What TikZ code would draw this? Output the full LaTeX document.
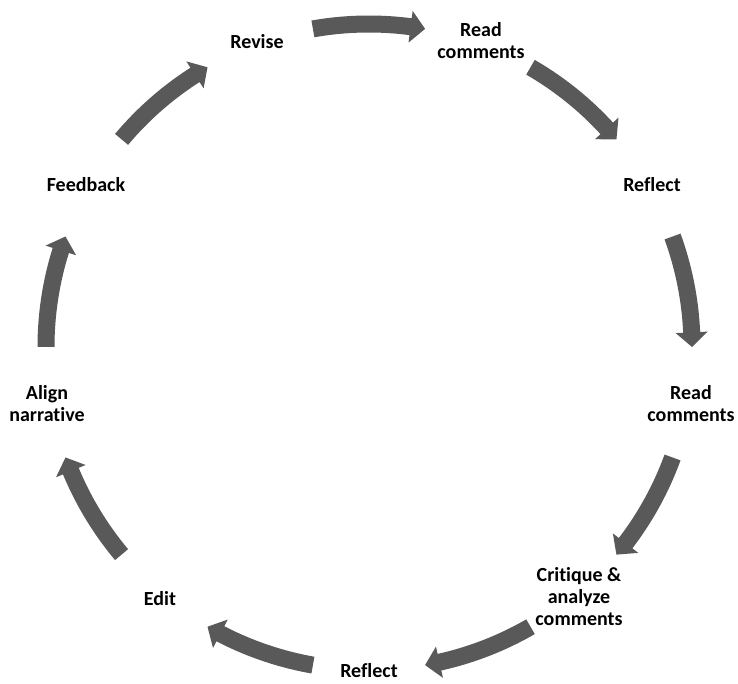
\documentclass[tikz,border=0pt]{standalone}
\usepackage{fontspec}
\setmainfont{Carlito}[Ligatures=NoCommon]
\definecolor{arrowgray}{RGB}{89,89,89}
\def\rM{323}
\def\rO{331.5}
\def\rI{314.5}
\def\rHO{339}
\def\rHI{307}
\newcommand\cycarrow[1]{%
  \pgfmathsetmacro\aS{#1+10}%
  \pgfmathsetmacro\aE{#1-10}%
  \pgfmathsetmacro\aH{#1-10+2.6}%
  \fill[arrowgray] (\aS:\rO) arc[start angle=\aS, end angle=\aH, radius=\rO]
    -- (\aH:\rHO) -- (\aE:\rM) -- (\aH:\rHI) -- (\aH:\rI)
    arc[start angle=\aH, end angle=\aS, radius=\rI] -- cycle;
}
\tikzset{lbl/.style={font=\bfseries\fontsize{20}{22}\selectfont, align=center, inner sep=0pt, text=black}}
\begin{document}
\begin{tikzpicture}[x=1pt,y=1pt]
\fill[white] (0,0) rectangle (738,683);
\useasboundingbox (0,0) rectangle (738,683);
\begin{scope}[shift={(369,336)}]
  \foreach \m in {90,50,10,-30,-70,-110,-150,170,130} {\cycarrow{\m}}
\end{scope}
\node[lbl] (revise) at (257,641) {Revise};
\node[lbl] (read1) at (481,642) {Read\\comments};
\node[lbl] (reflect1) at (652,498) {Reflect};
\node[lbl] (read2) at (691,279) {Read\\comments};
\node[lbl] (critique) at (579,86) {Critique \&\\analyze\\comments};
\node[lbl] (reflect2) at (369,12) {Reflect};
\node[lbl] (edit) at (160,84) {Edit};
\node[lbl] (align) at (47,279) {Align\\narrative};
\node[lbl] (feedback) at (86,498) {Feedback};
\end{tikzpicture}
\end{document}
